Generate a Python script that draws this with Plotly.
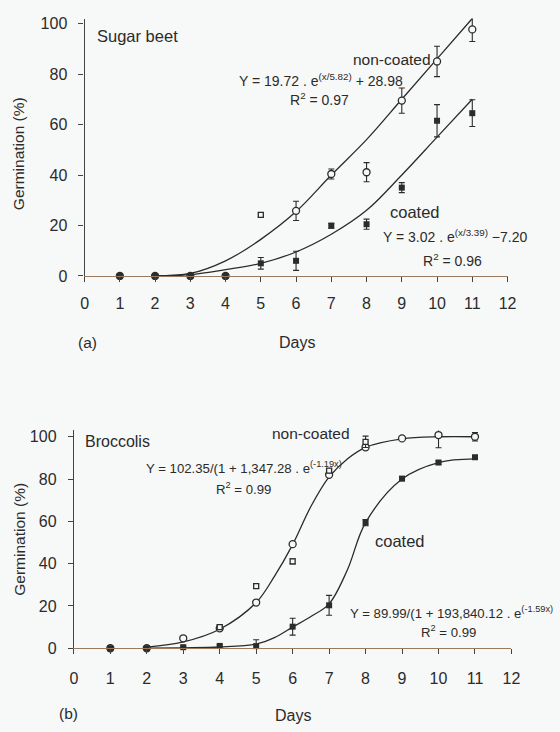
import plotly.graph_objects as go

# ---------------- DATA ----------------
days = [1, 2, 3, 4, 5, 6, 7, 8, 9, 10, 11]
x_ticks = list(range(0, 13))
y_ticks = [0, 20, 40, 60, 80, 100]

# Panel (a) Sugar beet
a_nc_days = [1, 2, 3, 4, 6, 7, 8, 9, 10, 11]
a_nc_vals = [0, 0, 0, 0, 25.8, 40.4, 41.1, 69.5, 85.0, 97.7]
a_nc_err = [0, 0, 0, 0, 3.8, 2.0, 3.8, 5.0, 6.0, 4.8]
a_nc_extra_days = [5]
a_nc_extra_vals = [24.2]
a_nc_extra_err = [0.8]
a_c_vals = [0, 0, 0, 0, 5.0, 6.0, 19.9, 20.5, 35.0, 61.5, 64.5]
a_c_err = [0.6, 0.6, 0.6, 0.6, 2.3, 3.8, 1.0, 2.0, 2.0, 6.4, 5.3]
a_curve_x = [2, 3, 4, 5, 6, 7, 8, 9, 10, 11]
a_nc_curve = [0, 1.0, 6.0, 14.5, 25.5, 40.0, 54.0, 70.0, 86.0, 102.0]
a_c_curve = [0, 0.5, 2.5, 5.0, 9.5, 16.5, 26.0, 40.0, 55.0, 70.0]

# Panel (b) Broccolis
b_nc_vals = [0, 0, 4.7, 9.4, 21.6, 49.2, 82.0, 95.0, 99.2, 100.8, 100.0]
b_nc_err = [0, 0, 0, 1.0, 0, 0, 0, 0, 0.8, 6.0, 2.0]
b_nc_extra_days = [4, 5, 6, 7, 8]
b_nc_extra_vals = [10.0, 29.4, 41.1, 84.0, 97.6]
b_nc_extra_err = [1.0, 1.0, 1.2, 1.0, 2.7]
b_c_vals = [0, 0, 0.5, 1.1, 1.0, 10.2, 20.3, 59.4, 80.2, 87.8, 90.3]
b_c_err = [0, 0, 0.5, 0.5, 3.0, 4.0, 4.7, 1.5, 1.0, 0.8, 0.8]
b_curve_x = [2, 3, 4, 5, 5.5, 6, 6.5, 7, 7.5, 8, 9, 10, 11]
b_nc_curve = [0.5, 3.0, 9.0, 21.6, 34.0, 49.0, 67.0, 81.0, 89.5, 95.0, 99.0, 100.0, 100.0]
b_c_curve = [0, 0.2, 0.6, 2.0, 5.0, 10.0, 15.0, 21.0, 37.0, 59.4, 80.0, 87.8, 89.5]

# ---------------- STYLE ----------------
W, H = 560, 732
BG = "#f7f8f8"
INK = "#2b2b2b"
FONT = "Liberation Sans, Arial, sans-serif"


def px(x):
    return x / W


def py(y):
    return 1 - y / H


fig = go.Figure()


def err(arr):
    return dict(type="data", array=arr, visible=True, thickness=1.1, width=3, color=INK)


def add_panel(xa, ya, curve_x, nc_curve, c_curve, nc_days, nc_vals, nc_err,
              ex_days, ex_vals, ex_err, c_vals, c_err):
    for cv in (nc_curve, c_curve):
        fig.add_trace(go.Scatter(x=curve_x, y=cv, mode="lines", xaxis=xa, yaxis=ya,
                                 line=dict(color=INK, width=1.3, shape="spline", smoothing=1.0),
                                 hoverinfo="skip", showlegend=False, cliponaxis=False))
    fig.add_trace(go.Scatter(x=nc_days, y=nc_vals, mode="markers", xaxis=xa, yaxis=ya,
                             marker=dict(symbol="circle", size=7, color=BG,
                                         line=dict(color=INK, width=1.3)),
                             error_y=err(nc_err), showlegend=False, cliponaxis=False))
    fig.add_trace(go.Scatter(x=ex_days, y=ex_vals, mode="markers", xaxis=xa, yaxis=ya,
                             marker=dict(symbol="square", size=5, color=BG,
                                         line=dict(color=INK, width=1.3)),
                             error_y=err(ex_err), showlegend=False, cliponaxis=False))
    fig.add_trace(go.Scatter(x=days, y=c_vals, mode="markers", xaxis=xa, yaxis=ya,
                             marker=dict(symbol="square", size=6, color=INK),
                             error_y=err(c_err), showlegend=False, cliponaxis=False))


add_panel("x", "y", a_curve_x, a_nc_curve, a_c_curve, a_nc_days, a_nc_vals, a_nc_err,
          a_nc_extra_days, a_nc_extra_vals, a_nc_extra_err, a_c_vals, a_c_err)
add_panel("x2", "y2", b_curve_x, b_nc_curve, b_c_curve, days, b_nc_vals, b_nc_err,
          b_nc_extra_days, b_nc_extra_vals, b_nc_extra_err, b_c_vals, b_c_err)

axis_font = dict(family=FONT, size=16, color=INK)
xcommon = dict(range=[0, 12], tickvals=x_ticks, ticks="outside", ticklen=5, tickwidth=1,
               tickcolor="#444", showline=True, linecolor="#9a7a5c", linewidth=1.2,
               showgrid=False, zeroline=False, tickfont=axis_font)
ycommon = dict(tickvals=y_ticks, ticks="outside", ticklen=5, tickwidth=1, tickcolor="#444",
               showline=True, linecolor="#444", linewidth=1.2, showgrid=False,
               zeroline=False, tickfont=axis_font, ticklabelstandoff=8)

fig.update_layout(
    width=W, height=H, paper_bgcolor=BG, plot_bgcolor="rgba(0,0,0,0)",
    margin=dict(l=0, r=0, t=0, b=0), showlegend=False,
    font=dict(family=FONT, color=INK),
    xaxis=dict(domain=[px(82.5), px(515.5)], anchor="y", ticklabelstandoff=8, **xcommon),
    yaxis=dict(domain=[py(277.5), py(15.8)], range=[0, 102], anchor="x", **ycommon),
    xaxis2=dict(domain=[px(71.5), px(519.5)], anchor="y2", ticklabelstandoff=10, **xcommon),
    yaxis2=dict(domain=[py(656), py(434.5)], range=[0, 103], anchor="x2", **ycommon),
)


def ann(text, x, y, size=14, xanchor="left", angle=0):
    fig.add_annotation(text=text, x=px(x), y=py(y), xref="paper", yref="paper",
                       xanchor=xanchor, yanchor="middle", showarrow=False, textangle=angle,
                       font=dict(family=FONT, size=size, color=INK))


EQA = 14
EQB = 13.2
# Panel (a) texts
ann("Sugar beet", 93, 34, 16.5)
ann("non-coated", 355, 57, 15.5)
ann("Y = 19.72 . e<sup>(x/5.82)</sup> + 28.98", 239, 78, EQA)
ann("R<sup>2</sup> = 0.97", 323, 98, EQA, "center")
ann("coated", 393, 212, 16.5)
ann("Y = 3.02 . e<sup>(x/3.39)</sup> \u22127.20", 386, 237, EQA)
ann("R<sup>2</sup> = 0.96", 459, 261, EQA, "center")
ann("(a)", 85, 345, 15.5, "center")
ann("Days", 300, 345, 16, "center")
ann("Germination (%)", 15, 153, 15.5, "center", -90)

# Panel (b) texts
ann("Broccolis", 81, 446, 16)
ann("non-coated", 272, 438, 15.5)
ann("Y = 102.35/(1 + 1,347.28 . e<sup>(-1.19x)</sup>", 143, 472, EQB)
ann("R<sup>2</sup> = 0.99", 245, 494, EQB, "center")
ann("coated", 378, 547, 16.5)
ann("Y = 89.99/(1 + 193,840.12 . e<sup>(-1.59x)</sup>", 352, 620, EQB)
ann("R<sup>2</sup> = 0.99", 455, 639, EQB, "center")
ann("(b)", 66, 722, 15.5, "center")
ann("Days", 296, 724, 16, "center")
ann("Germination (%)", 15, 545, 15.5, "center", -90)

fig.write_html("out.html", config={"displayModeBar": False},
               post_script="document.body.style.margin='0';document.body.style.overflow='hidden';")
